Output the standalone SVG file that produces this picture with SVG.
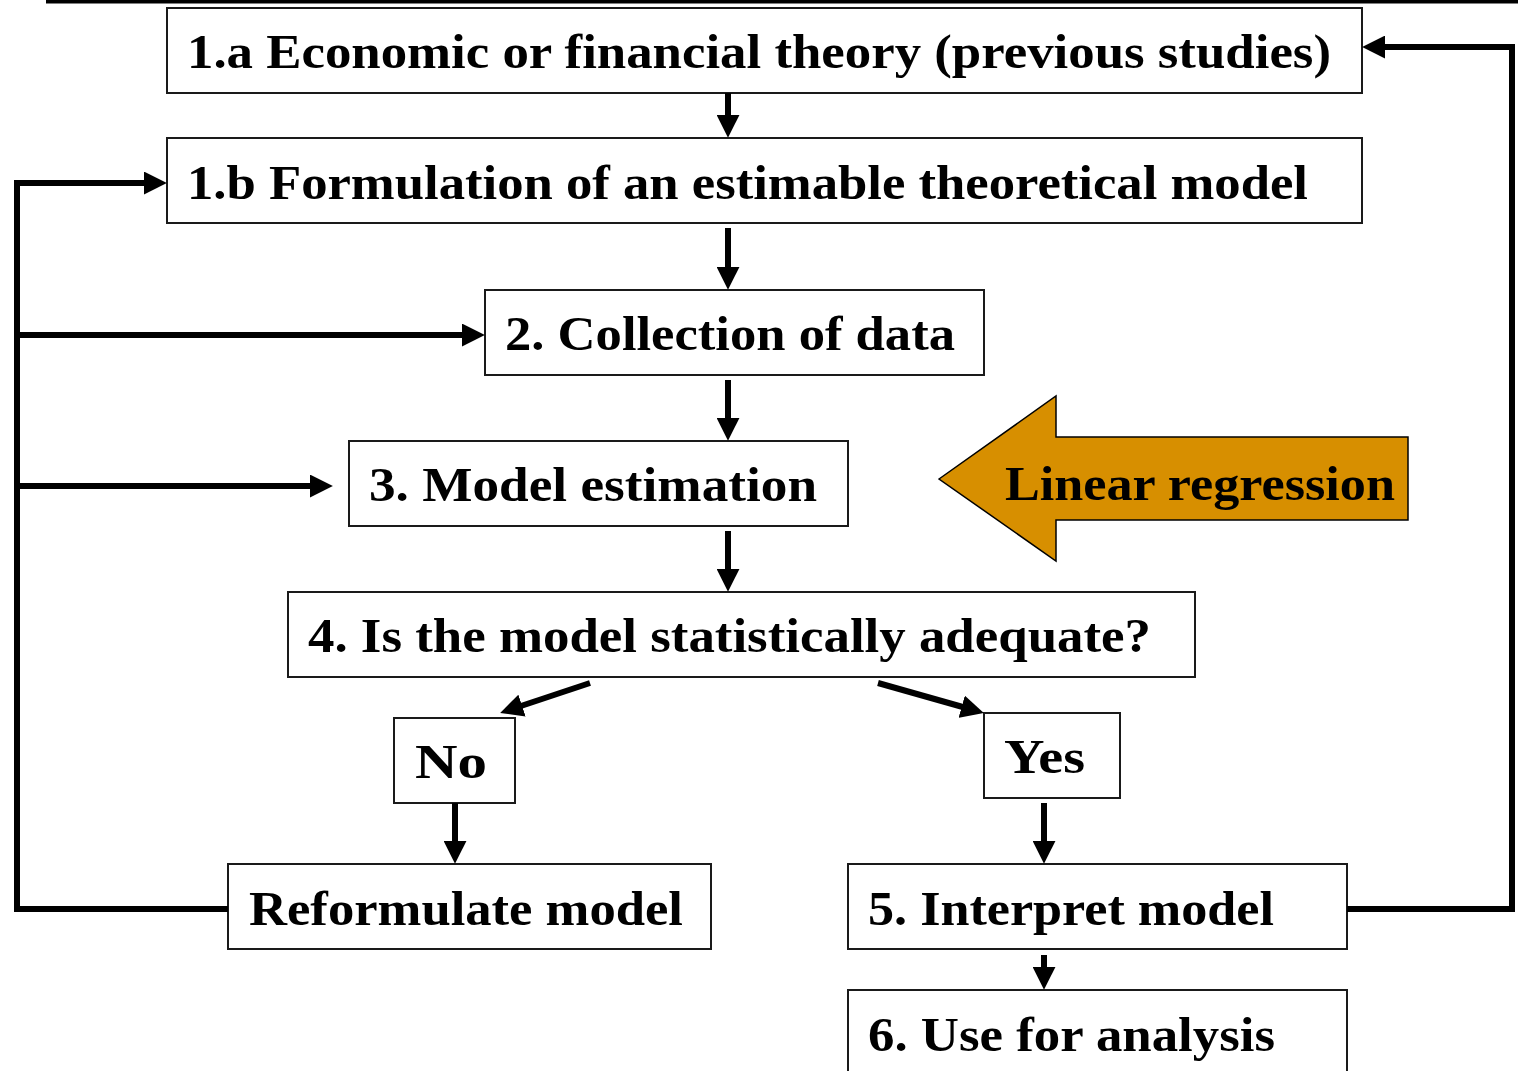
<svg xmlns="http://www.w3.org/2000/svg" width="1518" height="1071" viewBox="0 0 1518 1071">
  <style>
    .box { fill: #ffffff; stroke: #1a1a1a; stroke-width: 2; }
    .lbl { font-family: "Liberation Serif", "Times New Roman", serif; font-weight: bold; font-size: 49px; fill: #000000; }
    .conn { fill: none; stroke: #000000; stroke-width: 6; stroke-linejoin: miter; }
  </style>
  <defs>
    <marker id="head" viewBox="0 0 10 10" refX="0.5" refY="5" markerWidth="23" markerHeight="23" markerUnits="userSpaceOnUse" orient="auto">
      <path d="M0,0 L10,5 L0,10 z" fill="#000000"/>
    </marker>
  </defs>

  <!-- top rule -->
  <rect x="46" y="0" width="1472" height="3.5" fill="#000000"/>

  <!-- nodes -->
  <g id="n1a">
    <rect class="box" x="167" y="8" width="1195" height="85"/>
    <text class="lbl" x="187" y="68" textLength="1144" lengthAdjust="spacingAndGlyphs">1.a Economic or financial theory (previous studies)</text>
  </g>
  <g id="n1b">
    <rect class="box" x="167" y="138" width="1195" height="85"/>
    <text class="lbl" x="187" y="199" textLength="1121" lengthAdjust="spacingAndGlyphs">1.b Formulation of an estimable theoretical model</text>
  </g>
  <g id="n2">
    <rect class="box" x="485" y="290" width="499" height="85"/>
    <text class="lbl" x="505" y="350" textLength="450" lengthAdjust="spacingAndGlyphs">2. Collection of data</text>
  </g>
  <g id="n3">
    <rect class="box" x="349" y="441" width="499" height="85"/>
    <text class="lbl" x="369" y="501" textLength="448" lengthAdjust="spacingAndGlyphs">3. Model estimation</text>
  </g>
  <g id="n4">
    <rect class="box" x="288" y="592" width="907" height="85"/>
    <text class="lbl" x="308" y="652" textLength="843" lengthAdjust="spacingAndGlyphs">4. Is the model statistically adequate?</text>
  </g>
  <g id="nNo">
    <rect class="box" x="394" y="718" width="121" height="85"/>
    <text class="lbl" x="415" y="778" textLength="72" lengthAdjust="spacingAndGlyphs">No</text>
  </g>
  <g id="nYes">
    <rect class="box" x="984" y="713" width="136" height="85"/>
    <text class="lbl" x="1004" y="773" textLength="81" lengthAdjust="spacingAndGlyphs">Yes</text>
  </g>
  <g id="nReform">
    <rect class="box" x="228" y="864" width="483" height="85"/>
    <text class="lbl" x="249" y="925" textLength="434" lengthAdjust="spacingAndGlyphs">Reformulate model</text>
  </g>
  <g id="n5">
    <rect class="box" x="848" y="864" width="499" height="85"/>
    <text class="lbl" x="868" y="925" textLength="406" lengthAdjust="spacingAndGlyphs">5. Interpret model</text>
  </g>
  <g id="n6">
    <rect class="box" x="848" y="990" width="499" height="95"/>
    <text class="lbl" x="868" y="1051" textLength="407" lengthAdjust="spacingAndGlyphs">6. Use for analysis</text>
  </g>
  <g id="nLinReg">
    <polygon points="939,479 1056,396 1056,437 1408,437 1408,520 1056,520 1056,561" fill="#D78F00" stroke="#000000" stroke-width="1.5"/>
    <text class="lbl" x="1005" y="500" textLength="390" lengthAdjust="spacingAndGlyphs">Linear regression</text>
  </g>

  <!-- connectors -->
  <g id="connectors">
    <path class="conn" d="M728,93 V116" marker-end="url(#head)"/>
    <path class="conn" d="M728,228 V268" marker-end="url(#head)"/>
    <path class="conn" d="M728,380 V419" marker-end="url(#head)"/>
    <path class="conn" d="M728,531 V570" marker-end="url(#head)"/>
    <path class="conn" d="M228,909 H17 V183 H145" marker-end="url(#head)"/>
    <path class="conn" d="M17,335 H463" marker-end="url(#head)"/>
    <path class="conn" d="M17,486 H311" marker-end="url(#head)"/>
    <path class="conn" d="M1347,909 H1512 V47 H1384" marker-end="url(#head)"/>
    <path class="conn" d="M590,683 L520.9,706" marker-end="url(#head)"/>
    <path class="conn" d="M878,683 L962.8,707" marker-end="url(#head)"/>
    <path class="conn" d="M455,803 V842" marker-end="url(#head)"/>
    <path class="conn" d="M1044,803 V842" marker-end="url(#head)"/>
    <path class="conn" d="M1044,955 V968" marker-end="url(#head)"/>
  </g>
</svg>
